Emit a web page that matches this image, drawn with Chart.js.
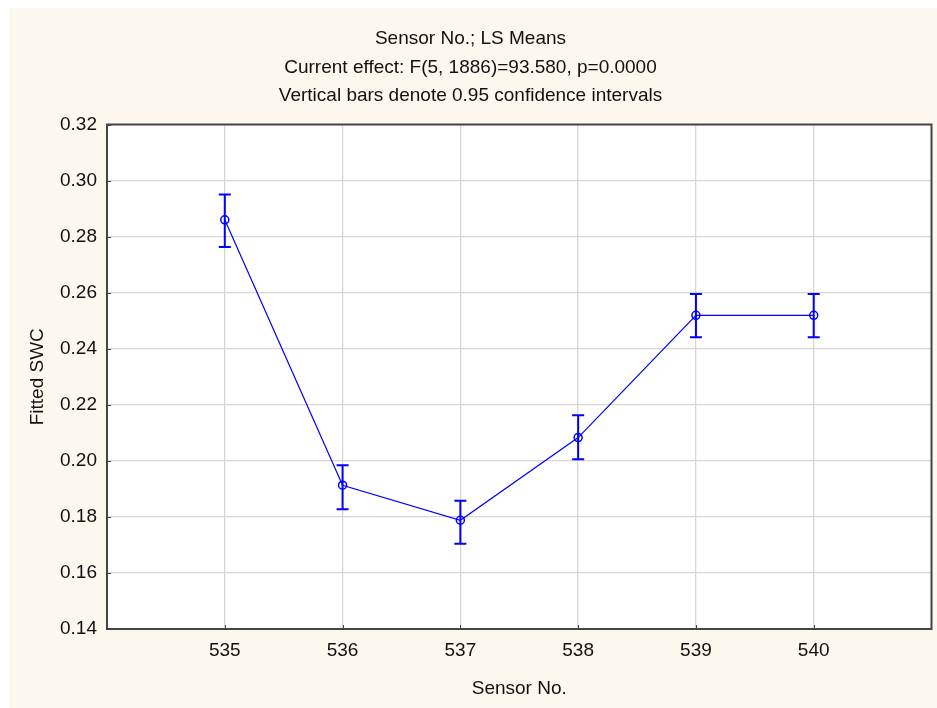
<!DOCTYPE html>
<html>
<head>
<meta charset="utf-8">
<script src="https://cdn.jsdelivr.net/npm/chart.js@4/dist/chart.umd.min.js"></script>
<style>
  body { margin: 0; background: #fff; }
  #wrap { position: absolute; left: 9px; top: 8px; width: 928px; height: 700px; background: #fdf8ed; }
</style>
</head>
<body>
<div id="wrap"><canvas id="chartLsMeans"></canvas></div>
<script>
	'use strict';

	// Sensor number categories and LS means with 0.95 CI
	var sensors = [535, 536, 537, 538, 539, 540];
	var means = [0.2860, 0.1913, 0.1788, 0.2083, 0.2519, 0.2519];
	var lowerCI = [0.2763, 0.1827, 0.1704, 0.2006, 0.2441, 0.2441];
	var upperCI = [0.2950, 0.1984, 0.1858, 0.2163, 0.2595, 0.2595];

	var titleLines = [
		'Sensor No.; LS Means',
		'Current effect: F(5, 1886)=93.580, p=0.0000',
		'Vertical bars denote 0.95 confidence intervals'
	];

	var colors = {
		line : '#0000ff',
		grid : '#d6d6d6',
		frame : '#444444',
		text : '#111111',
		plotBg : '#ffffff'
	};
	var fontFamily = "'Liberation Sans', Arial, sans-serif";

	var points = sensors.map(function(s, i) { return { x : s, y : means[i] }; });

	// white plot area
	var plotBackground = {
		id : 'plotBackground',
		beforeDraw : function(chart) {
			var ctx = chart.ctx, a = chart.chartArea;
			ctx.save();
			ctx.fillStyle = colors.plotBg;
			ctx.fillRect(a.left, a.top, a.right - a.left, a.bottom - a.top);
			ctx.restore();
		}
	};

	// error bars with caps, drawn through the scales
	var errorBars = {
		id : 'errorBars',
		afterDatasetsDraw : function(chart) {
			var ctx = chart.ctx, xs = chart.scales.x, ys = chart.scales.y;
			ctx.save();
			ctx.strokeStyle = colors.line;
			ctx.lineWidth = 2;
			for (var i = 0; i < sensors.length; i++) {
				var x = xs.getPixelForValue(sensors[i]);
				var yl = ys.getPixelForValue(lowerCI[i]);
				var yu = ys.getPixelForValue(upperCI[i]);
				ctx.beginPath();
				ctx.moveTo(x, yl); ctx.lineTo(x, yu);
				ctx.moveTo(x - 6, yl); ctx.lineTo(x + 6, yl);
				ctx.moveTo(x - 6, yu); ctx.lineTo(x + 6, yu);
				ctx.stroke();
			}
			ctx.restore();
		}
	};

	// frame around the plot area plus small inward ticks
	var frameBox = {
		id : 'frameBox',
		afterDraw : function(chart) {
			var ctx = chart.ctx, a = chart.chartArea, xs = chart.scales.x, ys = chart.scales.y;
			ctx.save();
			ctx.strokeStyle = colors.frame;
			ctx.lineWidth = 2;
			ctx.strokeRect(a.left, a.top, a.right - a.left, a.bottom - a.top);
			ctx.lineWidth = 1;
			ctx.beginPath();
			sensors.forEach(function(s) {
				var x = Math.round(xs.getPixelForValue(s)) + 0.5;
				ctx.moveTo(x, a.bottom); ctx.lineTo(x, a.bottom - 4);
			});
			ys.ticks.forEach(function(t) {
				var y = Math.round(ys.getPixelForValue(t.value)) + 0.5;
				ctx.moveTo(a.left, y); ctx.lineTo(a.left + 4, y);
			});
			ctx.stroke();
			ctx.restore();
		}
	};

	new Chart(document.getElementById('chartLsMeans'), {
		type : 'line',
		data : {
			datasets : [ {
				label : 'LS Means',
				data : points,
				borderColor : colors.line,
				borderWidth : 1.2,
				pointRadius : 4,
				pointBorderWidth : 1.5,
				pointBorderColor : colors.line,
				pointBackgroundColor : 'rgba(0,0,0,0)',
				tension : 0
			} ]
		},
		options : {
			responsive : true,
			maintainAspectRatio : false,
			animation : false,
			layout : { padding : { left : 0, right : 5, top : 0, bottom : 0 } },
			plugins : {
				legend : { display : false },
				tooltip : { enabled : false },
				title : {
					display : true,
					text : titleLines,
					color : colors.text,
					font : { family : fontFamily, size : 19, weight : 'normal', lineHeight : '28.5px' },
					padding : { top : 17, bottom : 14 }
				}
			},
			scales : {
				x : {
					type : 'linear',
					min : 534,
					max : 541,
					afterFit : function(scale) { scale.height = 79; },
					afterBuildTicks : function(scale) {
						scale.ticks = sensors.map(function(s) { return { value : s }; });
					},
					grid : { color : colors.grid, lineWidth : 1.3, drawTicks : false },
					border : { display : false },
					ticks : {
						color : colors.text,
						padding : 10,
						font : { family : fontFamily, size : 19 },
						callback : function(v) { return String(v); }
					},
					title : {
						display : true,
						text : 'Sensor No.',
						color : colors.text,
						font : { family : fontFamily, size : 19 },
						padding : { top : 0, bottom : 8 }
					}
				},
				y : {
					min : 0.14,
					max : 0.32,
					afterFit : function(scale) { scale.width = 98; },
					grid : { color : colors.grid, lineWidth : 1.3, drawTicks : false },
					border : { display : false },
					ticks : {
						stepSize : 0.02,
						color : colors.text,
						padding : 10,
						font : { family : fontFamily, size : 19 },
						callback : function(v) { return v.toFixed(2); }
					},
					title : {
						display : true,
						text : 'Fitted SWC',
						color : colors.text,
						font : { family : fontFamily, size : 19 },
						padding : { top : 17, bottom : 0 }
					}
				}
			}
		},
		plugins : [ plotBackground, errorBars, frameBox ]
	});
</script>
</body>
</html>
